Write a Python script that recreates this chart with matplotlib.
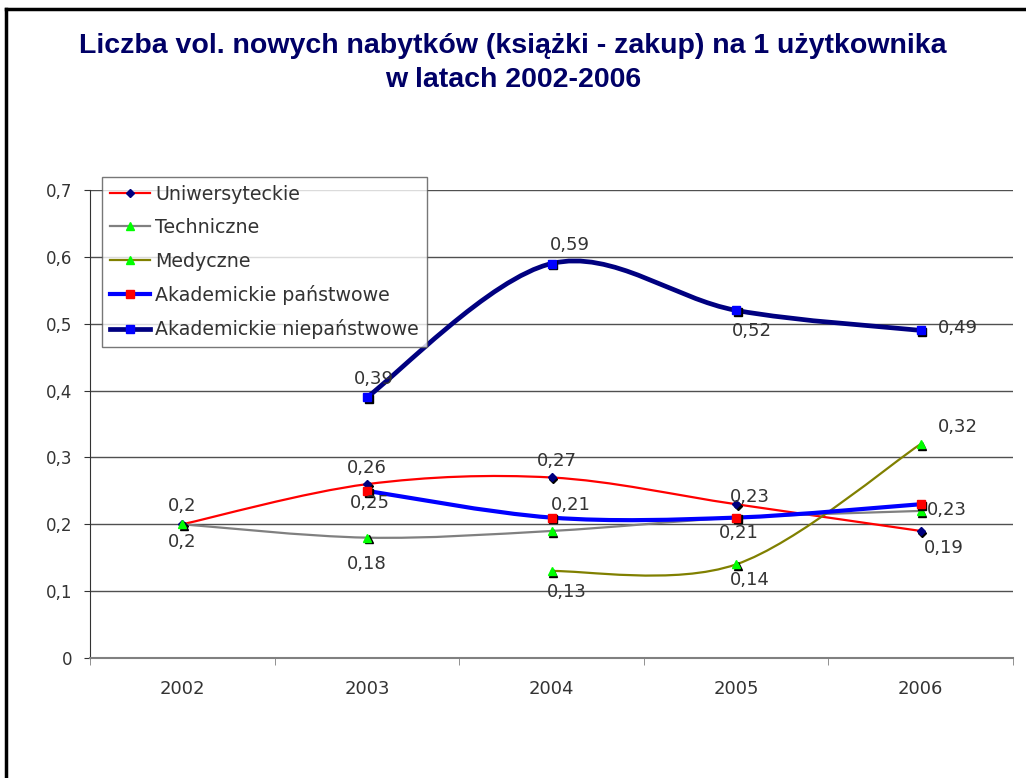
import matplotlib
matplotlib.use("Agg")
import matplotlib.pyplot as plt
from matplotlib.path import Path
from matplotlib.patches import PathPatch
from matplotlib.lines import Line2D
import matplotlib.transforms as mtransforms

years = ["2002", "2003", "2004", "2005", "2006"]

uniwersyteckie = [0.20, 0.26, 0.27, 0.23, 0.19]
techniczne = [0.20, 0.18, 0.19, 0.21, 0.22]
medyczne = [None, None, 0.13, 0.14, 0.32]
akad_panstwowe = [None, 0.25, 0.21, 0.21, 0.23]
akad_niepanstwowe = [None, 0.39, 0.59, 0.52, 0.49]

series_names = ["Uniwersyteckie", "Techniczne", "Medyczne",
                "Akademickie państwowe", "Akademickie niepaństwowe"]

# (series index, year index, text offset in points)
label_spots = [
    (0, 0, (0, 13)), (1, 0, (0, -13)),
    (0, 1, (0, 12)), (3, 1, (2, -9)), (1, 1, (0, -19)),
    (0, 2, (4, 12)), (3, 2, (14, 9)), (2, 2, (11, -15)),
    (4, 1, (5, 13)), (4, 2, (13, 13)), (4, 3, (11, -15)), (4, 4, (27, 2)),
    (0, 3, (10, 5)), (3, 3, (2, -11)), (2, 3, (10, -11)),
    (2, 4, (27, 12)), (3, 4, (19, -4)), (0, 4, (17, -12)),
]


def smooth_path(xs, ys):
    # Excel-like smoothed line: cubic bezier through the points
    pts = list(zip(xs, ys))
    verts = [pts[0]]
    codes = [Path.MOVETO]
    n = len(pts)
    for i in range(n - 1):
        p0 = pts[i - 1] if i > 0 else pts[i]
        p1 = pts[i]
        p2 = pts[i + 1]
        p3 = pts[i + 2] if i + 2 < n else pts[i + 1]
        c1 = (p1[0] + (p2[0] - p0[0]) / 6, p1[1] + (p2[1] - p0[1]) / 6)
        c2 = (p2[0] - (p3[0] - p1[0]) / 6, p2[1] - (p3[1] - p1[1]) / 6)
        verts += [c1, c2, p2]
        codes += [Path.CURVE4] * 3
    return Path(verts, codes)


all_series = [uniwersyteckie, techniczne, medyczne, akad_panstwowe, akad_niepanstwowe]
line_colors = ["#FF0000", "#808080", "#808000", "#0000FF", "#000080"]
line_widths = [1.6, 1.6, 1.6, 3.0, 3.4]
markers = ["D", "^", "^", "s", "s"]
marker_colors = ["#000080", "#00FF00", "#00FF00", "#FF0000", "#0000FF"]
marker_sizes = [4, 6, 6, 6, 6]

fig = plt.figure(figsize=(10.26, 7.78), dpi=100)
ax = fig.add_axes([90 / 1026, 120 / 778, 923 / 1026, 468 / 778])

for y in [0.1, 0.2, 0.3, 0.4, 0.5, 0.6, 0.7]:
    ax.axhline(y, color="#505050", lw=1.0, zorder=1)

shadow = mtransforms.offset_copy(ax.transData, fig=fig, x=1.2, y=-1.2, units="points")

for k, vals in enumerate(all_series):
    xs = [i for i, v in enumerate(vals) if v is not None]
    ys = [v for v in vals if v is not None]
    patch = PathPatch(smooth_path(xs, ys), fill=False, edgecolor=line_colors[k],
                      lw=line_widths[k], capstyle="round", joinstyle="round", zorder=3 + k * 0.1)
    ax.add_patch(patch)
    ax.plot(xs, ys, linestyle="none", marker=markers[k], ms=marker_sizes[k],
            color="black", transform=shadow, zorder=4 + k * 0.1)
    ax.plot(xs, ys, linestyle="none", marker=markers[k], ms=marker_sizes[k],
            markerfacecolor=marker_colors[k], markeredgecolor=marker_colors[k],
            zorder=4.05 + k * 0.1)

for s, i, off in label_spots:
    v = all_series[s][i]
    ax.annotate(f"{v:g}".replace(".", ","), (i, v), xytext=off, textcoords="offset points",
                ha="center", va="center", fontsize=13, color="#333333", zorder=6)

ax.set_xlim(-0.5, 4.5)
ax.set_ylim(0, 0.7)
ax.set_xticks(range(len(years)))
ax.set_xticklabels(years)
ax.set_xticks([i - 0.5 for i in range(len(years) + 1)], minor=True)
ax.tick_params(axis="x", which="major", length=0, pad=16, labelsize=13, labelcolor="#333333")
ax.tick_params(axis="x", which="minor", length=5, direction="out", color="#808080")
ax.set_yticks([0, 0.1, 0.2, 0.3, 0.4, 0.5, 0.6, 0.7])
ax.set_yticklabels(["0", "0,1", "0,2", "0,3", "0,4", "0,5", "0,6", "0,7"])
ax.tick_params(axis="y", length=4, direction="out", color="#333333", labelsize=12,
               labelcolor="#333333", pad=9)
for side in ["top", "right"]:
    ax.spines[side].set_visible(False)
ax.spines["left"].set_color("#333333")
ax.spines["bottom"].set_color("#808080")
ax.spines["bottom"].set_linewidth(1.5)

handles = [Line2D([], [], color=line_colors[k], lw=line_widths[k], marker=markers[k],
                  ms=marker_sizes[k], markerfacecolor=marker_colors[k],
                  markeredgecolor=marker_colors[k]) for k in range(5)]
leg = fig.legend(handles, series_names, loc="upper left", bbox_to_anchor=(102 / 1026, 1 - 177 / 778),
                 borderaxespad=0, fontsize=13.7, frameon=True, fancybox=False, handlelength=2.1,
                 handletextpad=0.3, labelspacing=0.76, borderpad=0.4, labelcolor="#333333")
leg.get_frame().set_edgecolor("#555555")
leg.get_frame().set_linewidth(1.0)

fig.text(0.5, 1 - 46 / 778, "Liczba vol. nowych nabytków (książki - zakup) na 1 użytkownika",
         ha="center", va="center", fontsize=20.5, fontweight="bold", color="#000066",
         family="Liberation Sans")
fig.text(0.5, 1 - 80 / 778, "w latach 2002-2006", ha="center", va="center", fontsize=20.5,
         fontweight="bold", color="#000066", family="Liberation Sans")

fig.add_artist(Line2D([6 / 1026, 6 / 1026], [0, 1 - 9 / 778], color="black", lw=2.5))
fig.add_artist(Line2D([6 / 1026, 1], [1 - 9 / 778, 1 - 9 / 778], color="black", lw=2.5))

fig.savefig("out.png", dpi=100)
